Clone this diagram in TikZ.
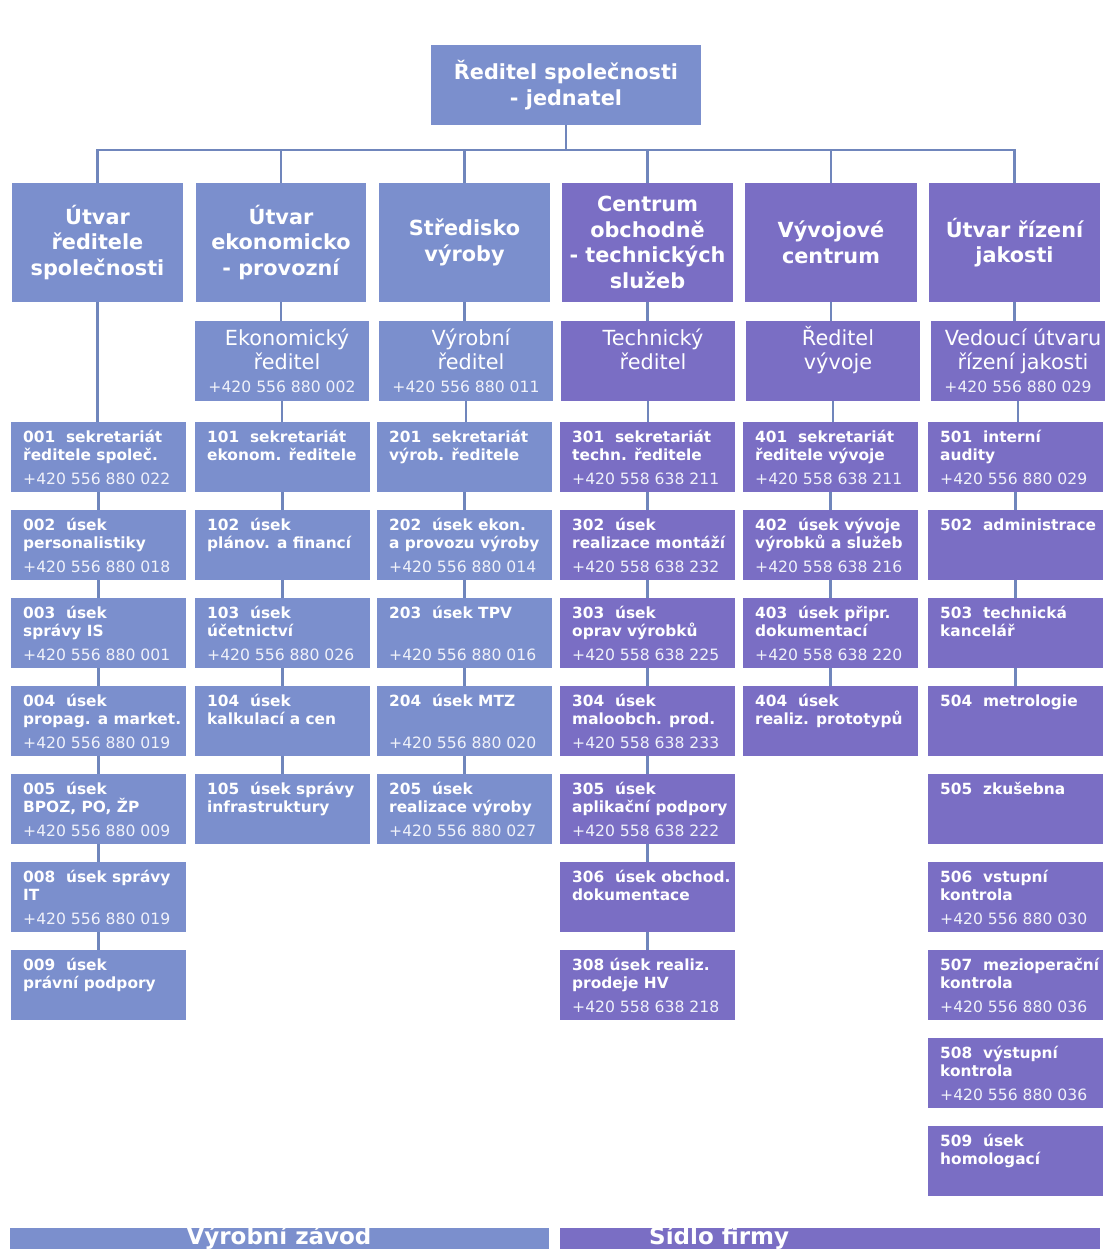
\documentclass[tikz,border=0pt]{standalone}
\usepackage{fontspec}
\setmainfont{DejaVu Sans}
\definecolor{bluebox}{RGB}{123,143,205}
\definecolor{purplebox}{RGB}{122,110,196}
\definecolor{conncol}{RGB}{112,134,188}
\definecolor{phonecol}{RGB}{240,242,250}
\tikzset{
 conn/.style={draw=conncol, line width=2.8pt},
 boxshape/.style={rectangle, inner sep=0pt, outer sep=0pt, anchor=north west},
 hdtxt/.style={text=white, font=\fontsize{20.8}{25.5}\selectfont\bfseries, align=center},
 dirtxt/.style={text=white, font=\fontsize{20.8}{24}\selectfont, inner sep=0pt},
 deptxt/.style={text=white, font=\fontsize{15.4}{18}\selectfont\bfseries, inner sep=0pt, anchor=base west},
 phtxt/.style={text=phonecol, font=\fontsize{15.6}{18}\selectfont, inner sep=0pt},
 bantxt/.style={text=white, font=\fontsize{23}{26}\selectfont\bfseries, inner sep=0pt},
}
\newcommand\deptbox[7]{%
 \node[boxshape, fill=#4, minimum width=175pt, minimum height=70pt] (#1) at (#2,#3) {};
 \node[deptxt] (#1-a) at ([xshift=12pt,yshift=-20pt]#1.north west) {#5};
 \node[deptxt] (#1-b) at ([xshift=12pt,yshift=-38pt]#1.north west) {#6};
 \node[phtxt, anchor=base west] (#1-c) at ([xshift=12pt,yshift=-62pt]#1.north west) {#7};
}
\newcommand\dirbox[6]{%
 \node[boxshape, fill=#3, minimum width=174pt, minimum height=80pt] (#1) at (#2,321) {};
 \node[dirtxt, anchor=base] (#1-a) at ([xshift=5pt,yshift=-24pt]#1.north) {#4};
 \node[dirtxt, anchor=base] (#1-b) at ([xshift=5pt,yshift=-48pt]#1.north) {#5};
 \node[phtxt, anchor=base] (#1-c) at ([yshift=-71pt]#1.north) {#6};
}
\begin{document}
\begin{tikzpicture}[x=1pt,y=-1pt]
\useasboundingbox (0,0) rectangle (1109,1249);
\fill[white] (0,0) rectangle (1109,1249);

% top
\node[boxshape, fill=bluebox, minimum width=270pt, minimum height=80pt, hdtxt] (top) at (431,45) {Ředitel společnosti\\- jednatel};

% level 1
\node[boxshape, fill=bluebox, minimum width=171pt, minimum height=119pt, hdtxt] (u1) at (12,183) {Útvar\\ředitele\\společnosti};
\node[boxshape, fill=bluebox, minimum width=170pt, minimum height=119pt, hdtxt] (u2) at (196,183) {Útvar\\ekonomicko\\- provozní};
\node[boxshape, fill=bluebox, minimum width=171pt, minimum height=119pt, hdtxt] (u3) at (379,183) {Středisko\\výroby};
\node[boxshape, fill=purplebox, minimum width=171pt, minimum height=119pt, hdtxt] (u4) at (562,183) {Centrum\\obchodně\\- technických\\služeb};
\node[boxshape, fill=purplebox, minimum width=172pt, minimum height=119pt, hdtxt] (u5) at (745,183) {Vývojové\\centrum};
\node[boxshape, fill=purplebox, minimum width=171pt, minimum height=119pt, hdtxt] (u6) at (929,183) {Útvar řízení\\jakosti};

% directors
\dirbox{e2}{195}{bluebox}{Ekonomický}{ředitel}{+420 556 880 002}
\dirbox{e3}{379}{bluebox}{Výrobní}{ředitel}{+420 556 880 011}
\dirbox{e4}{561}{purplebox}{Technický}{ředitel}{}
\dirbox{e5}{746}{purplebox}{Ředitel}{vývoje}{}
\dirbox{e6}{931}{purplebox}{Vedoucí útvaru}{řízení jakosti}{+420 556 880 029}

% column 1
\deptbox{d001}{11}{422}{bluebox}{001~~sekretariát}{ředitele společ.}{+420 556 880 022}
\deptbox{d002}{11}{510}{bluebox}{002~~úsek}{personalistiky}{+420 556 880 018}
\deptbox{d003}{11}{598}{bluebox}{003~~úsek}{správy IS}{+420 556 880 001}
\deptbox{d004}{11}{686}{bluebox}{004~~úsek}{propag. a market.}{+420 556 880 019}
\deptbox{d005}{11}{774}{bluebox}{005~~úsek}{BPOZ, PO, ŽP}{+420 556 880 009}
\deptbox{d008}{11}{862}{bluebox}{008~~úsek správy}{IT}{+420 556 880 019}
\deptbox{d009}{11}{950}{bluebox}{009~~úsek}{právní podpory}{}
% column 2
\deptbox{d101}{195}{422}{bluebox}{101~~sekretariát}{ekonom. ředitele}{}
\deptbox{d102}{195}{510}{bluebox}{102~~úsek}{plánov. a financí}{}
\deptbox{d103}{195}{598}{bluebox}{103~~úsek}{účetnictví}{+420 556 880 026}
\deptbox{d104}{195}{686}{bluebox}{104~~úsek}{kalkulací a cen}{}
\deptbox{d105}{195}{774}{bluebox}{105~~úsek správy}{infrastruktury}{}
% column 3
\deptbox{d201}{377}{422}{bluebox}{201~~sekretariát}{výrob. ředitele}{}
\deptbox{d202}{377}{510}{bluebox}{202~~úsek ekon.}{a provozu výroby}{+420 556 880 014}
\deptbox{d203}{377}{598}{bluebox}{203~~úsek TPV}{}{+420 556 880 016}
\deptbox{d204}{377}{686}{bluebox}{204~~úsek MTZ}{}{+420 556 880 020}
\deptbox{d205}{377}{774}{bluebox}{205~~úsek}{realizace výroby}{+420 556 880 027}
% column 4
\deptbox{d301}{560}{422}{purplebox}{301~~sekretariát}{techn. ředitele}{+420 558 638 211}
\deptbox{d302}{560}{510}{purplebox}{302~~úsek}{realizace montáží}{+420 558 638 232}
\deptbox{d303}{560}{598}{purplebox}{303~~úsek}{oprav výrobků}{+420 558 638 225}
\deptbox{d304}{560}{686}{purplebox}{304~~úsek}{maloobch. prod.}{+420 558 638 233}
\deptbox{d305}{560}{774}{purplebox}{305~~úsek}{aplikační podpory}{+420 558 638 222}
\deptbox{d306}{560}{862}{purplebox}{306~~úsek obchod.}{dokumentace}{}
\deptbox{d308}{560}{950}{purplebox}{308 úsek realiz.}{prodeje HV}{+420 558 638 218}
% column 5
\deptbox{d401}{743}{422}{purplebox}{401~~sekretariát}{ředitele vývoje}{+420 558 638 211}
\deptbox{d402}{743}{510}{purplebox}{402~~úsek vývoje}{výrobků a služeb}{+420 558 638 216}
\deptbox{d403}{743}{598}{purplebox}{403~~úsek připr.}{dokumentací}{+420 558 638 220}
\deptbox{d404}{743}{686}{purplebox}{404~~úsek}{realiz. prototypů}{}
% column 6
\deptbox{d501}{928}{422}{purplebox}{501~~interní}{audity}{+420 556 880 029}
\deptbox{d502}{928}{510}{purplebox}{502~~administrace}{}{}
\deptbox{d503}{928}{598}{purplebox}{503~~technická}{kancelář}{}
\deptbox{d504}{928}{686}{purplebox}{504~~metrologie}{}{}
\deptbox{d505}{928}{774}{purplebox}{505~~zkušebna}{}{}
\deptbox{d506}{928}{862}{purplebox}{506~~vstupní}{kontrola}{+420 556 880 030}
\deptbox{d507}{928}{950}{purplebox}{507~~mezioperační}{kontrola}{+420 556 880 036}
\deptbox{d508}{928}{1038}{purplebox}{508~~výstupní}{kontrola}{+420 556 880 036}
\deptbox{d509}{928}{1126}{purplebox}{509~~úsek}{homologací}{}

% banners
\node[boxshape, fill=bluebox, minimum width=539pt, minimum height=40pt] (vz) at (10,1228) {};
\node[bantxt, anchor=base] (vz-t) at (279,1244) {Výrobní závod};
\node[boxshape, fill=purplebox, minimum width=540pt, minimum height=40pt] (sf) at (560,1228) {};
\node[bantxt, anchor=base west] (sf-t) at (649,1244) {Sídlo firmy};

% connectors
\coordinate (busL) at (98,150);
\draw[conn] (top.south) -- (top.south |- busL);
\draw[conn] (u1.north) |- (u6.north |- busL) -- (u6.north);
\foreach \n in {u2,u3,u4,u5} \draw[conn] (\n.north) -- (\n.north |- busL);
\foreach \a/\b in {u1/d001,d001/d002,d002/d003,d003/d004,d004/d005,d005/d008,d008/d009,
  u2/e2,e2/d101,d101/d102,d102/d103,d103/d104,d104/d105,
  u3/e3,e3/d201,d201/d202,d202/d203,d203/d204,d204/d205,
  u4/e4,e4/d301,d301/d302,d302/d303,d303/d304,d304/d305,d305/d306,d306/d308,
  u5/e5,e5/d401,d401/d402,d402/d403,d403/d404,
  u6/e6,e6/d501,d501/d502,d502/d503,d503/d504}
  \draw[conn] (\a.south) -- (\a.south |- \b.north);
\end{tikzpicture}
\end{document}
